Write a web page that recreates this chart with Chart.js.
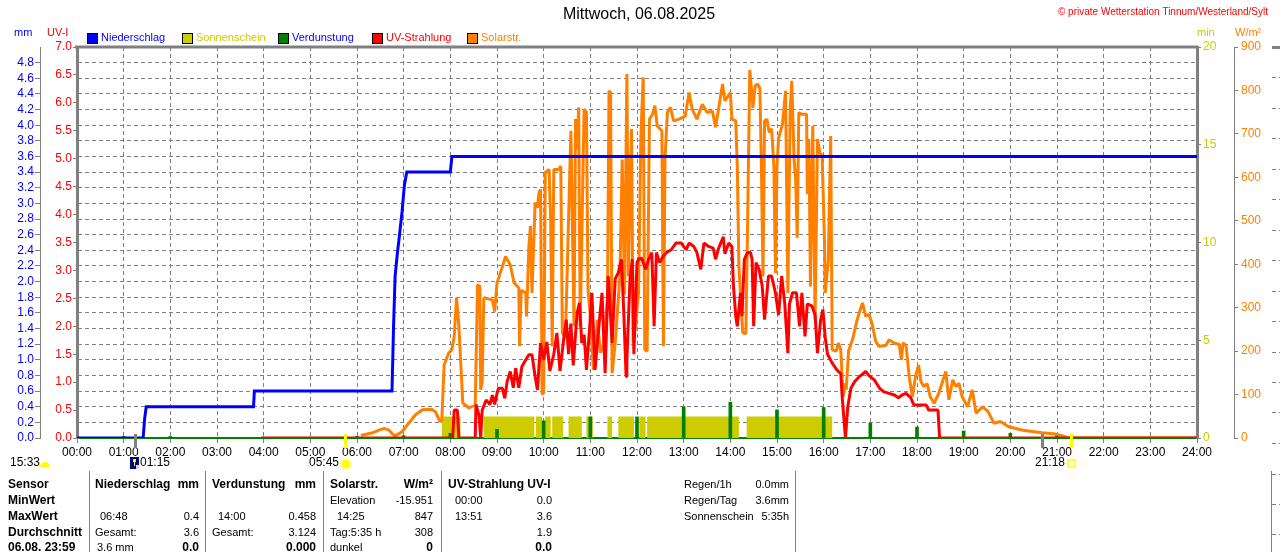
<!DOCTYPE html>
<html>
<head>
<meta charset="utf-8">
<title>Wetterstation Tinnum 06.08.2025</title>
<script src="https://cdn.jsdelivr.net/npm/chart.js@4.4.1/dist/chart.umd.min.js"></script>
<style>
  html, body { margin: 0; padding: 0; background: #fff; }
  canvas { display: block; }
</style>
</head>
<body>
<canvas id="chart" width="1280" height="552"></canvas>
<script>
// times are minutes after 00:00
var hourLabels = ['00:00','01:00','02:00','03:00','04:00','05:00','06:00','07:00','08:00','09:00','10:00','11:00','12:00',
                  '13:00','14:00','15:00','16:00','17:00','18:00','19:00','20:00','21:00','22:00','23:00','24:00'];
var mmLabels = ['0.0','0.2','0.4','0.6','0.8','1.0','1.2','1.4','1.6','1.8','2.0','2.2','2.4','2.6','2.8','3.0',
                '3.2','3.4','3.6','3.8','4.0','4.2','4.4','4.6','4.8'];
var uvLabels = ['0.0','0.5','1.0','1.5','2.0','2.5','3.0','3.5','4.0','4.5','5.0','5.5','6.0','6.5','7.0'];
var minLabels = ['0','5','10','15','20'];
var wLabels = ['0','100','200','300','400','500','600','700','800','900'];

// Niederschlag (mm, Tagessumme)
var rainTime = [0, 85, 87, 89, 227, 228, 405, 407, 409, 412, 414, 418, 421, 424, 480, 482, 1440];
var rainMm   = [0, 0, 0.25, 0.4, 0.4, 0.6, 0.6, 1.43, 2.07, 2.37, 2.54, 2.9, 3.24, 3.4, 3.4, 3.6, 3.6];

// Verdunstung (mm)
var evapTime = [60, 120, 180, 240, 300, 360, 420, 480, 540, 600, 660, 720, 780, 840, 900, 960, 1020, 1080, 1140, 1200, 1260];
var evapMm   = [0.02, 0.02, 0.01, 0.01, 0.01, 0.02, 0.03, 0.06, 0.11, 0.22, 0.27, 0.27, 0.40, 0.458, 0.36, 0.39, 0.19, 0.14, 0.09, 0.06, 0.04];

// Sonnenschein (min)
var sunStart = [469, 523, 590, 602, 611, 632, 655, 682, 696, 723, 733, 861];
var sunEnd   = [493, 588, 598, 609, 625, 649, 663, 688, 716, 731, 851, 971];
var sunLevel = 1.1;

// Solarstrahlung (W/m2)
var solarTime = [365, 380, 388, 395, 401, 408, 414, 418, 427, 435, 444, 456, 461, 466, 469, 472, 478, 482, 485, 488, 491, 496,
  504, 512, 515, 518, 519, 521, 523, 534, 537, 540, 547, 551, 557, 562, 568, 569, 571, 577, 578, 581, 583, 585, 589, 592, 594,
  596, 598, 600, 602, 607, 609, 611, 613, 619, 622, 624, 628, 635, 639, 641, 643, 645, 647, 652, 655, 657, 660, 664, 669, 673,
  677, 682, 684, 686, 688, 692, 698, 701, 704, 707, 709, 711, 713, 715, 718, 722, 725, 728, 730, 733, 736, 740, 743, 746, 752,
  754, 756, 759, 763, 767, 774, 782, 787, 791, 797, 804, 810, 817, 821, 826, 830, 833, 840, 842, 847, 849, 851, 856, 860, 862,
  865, 868, 869, 872, 875, 878, 880, 882, 884, 887, 890, 893, 896, 898, 900, 902, 907, 911, 914, 917, 919, 922, 924, 926, 928,
  932, 938, 939, 941, 943, 946, 949, 952, 955, 958, 961, 962, 966, 969, 971, 976, 979, 982, 985, 988, 989, 992, 997, 1003,
  1007, 1010, 1014, 1018, 1022, 1027, 1031, 1040, 1044, 1051, 1057, 1060, 1062, 1066, 1070, 1074, 1078, 1082, 1085, 1089,
  1093, 1097, 1102, 1108, 1117, 1121, 1126, 1130, 1134, 1138, 1145, 1151, 1156, 1164, 1171, 1179, 1187, 1198, 1216, 1241,
  1258, 1267, 1275, 1440];
var solarWm2 = [6, 12, 18, 22, 18, 5, 10, 15, 35, 53, 65, 66, 60, 40, 38, 168, 196, 203, 234, 323, 257, 81,
  69, 76, 353, 349, 111, 130, 323, 318, 291, 357, 395, 418, 399, 357, 346, 211, 340, 334, 280, 441, 488, 334, 542, 530, 565,
  572, 100, 104, 611, 618, 500, 211, 618, 618, 626, 242, 230, 707, 257, 734, 665, 761, 257, 757, 750, 342, 280, 157, 272, 196,
  215, 318, 799, 795, 149, 219, 372, 641, 330, 838, 372, 580, 711, 219, 257, 334, 695, 830, 203, 200, 734, 745, 765, 718, 707,
  211, 641, 749, 761, 730, 734, 741, 795, 757, 734, 768, 750, 752, 715, 770, 815, 776, 795, 734, 730, 622, 395, 242, 240, 472,
  847, 788, 760, 811, 815, 805, 618, 372, 730, 734, 703, 712, 626, 380, 626, 690, 722, 799, 334, 760, 822, 640, 595, 461, 749,
  745, 745, 561, 688, 349, 718, 272, 688, 657, 650, 457, 334, 410, 695, 203, 200, 219, 203, 95, 126, 111, 200, 226, 272,
  295, 311, 280, 285, 265, 222, 211, 213, 226, 218, 216, 180, 219, 212, 141, 95, 141, 168, 130, 118,
  125, 95, 80, 103, 153, 88, 134, 118, 126, 95, 72, 111, 57, 72, 62, 34, 38, 26, 18, 12,
  9, 5, 0, 0];

// UV-Strahlung (UV-Index)
var uvTime = [237, 483, 485, 489, 491, 512, 513, 515, 517, 519, 521, 526, 531, 534, 537, 540, 542, 547, 550, 553, 557, 561,
  564, 568, 572, 577, 581, 585, 589, 592, 596, 600, 604, 608, 613, 617, 621, 626, 629, 632, 635, 638, 643, 646, 649, 652, 655,
  659, 662, 666, 671, 675, 679, 683, 688, 692, 696, 700, 703, 706, 707, 711, 714, 716, 720, 722, 726, 731, 735, 739, 742, 745,
  749, 754, 758, 764, 770, 777, 783, 787, 793, 797, 802, 806, 812, 818, 821, 825, 831, 833, 838, 842, 844, 847, 849, 853, 855,
  858, 862, 866, 868, 870, 873, 877, 881, 884, 889, 893, 898, 902, 906, 910, 914, 916, 920, 925, 929, 932, 936, 939, 945, 949,
  952, 956, 959, 962, 965, 971, 977, 982, 984, 988, 991, 995, 1000, 1006, 1014, 1018, 1025, 1032, 1037, 1044, 1051, 1056,
  1061, 1066, 1072, 1076, 1086, 1092, 1095, 1107, 1109, 1440];
var uvIndex = [0, 0, 0.5, 0.5, 0, 0, 0.6, 0.5, 0.4, 0, 0.5, 0.68, 0.6, 0.77, 0.6, 0.8, 0.89, 0.89, 0.71, 1.01, 1.19, 0.9,
  1.25, 0.9, 1.28, 1.4, 1.49, 1.49, 1.1, 0.86, 1.7, 1.4, 1.72, 1.2, 1.5, 1.88, 1.2, 1.8, 2.12, 1.5, 2.05, 1.3, 2.24, 2.42, 1.7, 1.85, 1.22,
  1.95, 2.6, 1.22, 2.0, 2.6, 1.16, 2.9, 1.7, 2.85, 2.96, 3.2, 2.25, 1.1, 1.4, 2.85, 3.2, 1.5, 3.14, 3.2, 3.22, 3.02, 3.2, 3.32, 2.0, 3.32,
  3.14, 3.26, 3.32, 3.37, 3.49, 3.49, 3.37, 3.49, 3.43, 3.32, 3.02, 3.49, 3.43, 3.4, 3.2, 3.4, 3.6, 3.3, 3.49, 3.43, 2.72, 2.18, 2.0, 2.6, 2.18,
  3.2, 3.32, 3.32, 3.2, 2.0, 3.14, 3.02, 2.72, 2.12, 2.9, 2.9, 2.6, 2.2, 2.9, 2.4, 1.52, 2.4, 2.6, 2.6, 2.0, 2.6, 1.82, 2.4, 2.36, 2.2,
  1.52, 2.1, 2.3, 1.8, 1.5, 1.34, 1.22, 1.15, 0.7, 0, 0.56, 0.89, 1.01, 1.1, 1.19, 1.12, 1.04, 0.89, 0.83, 0.8, 0.77, 0.72,
  0.77, 0.8, 0.72, 0.59, 0.59, 0.59, 0.5, 0.5, 0, 0];

// Sonnen-/Mondzeiten unter der Zeitachse
var markTimes  = ['01:15', '05:45', '20:41', '21:18'];
var markColors = ['#808080', '#ffff00', '#808080', '#ffff00'];

var GRAY = '#808080';
var FONT = "'Liberation Sans', Arial, sans-serif";

function toMin(hhmm) {
    var p = hhmm.split(':');
    return Number(p[0]) * 60 + Number(p[1]);
}
function pairs(xs, ys) {
    return xs.map(function (x, i) { return { x: x, y: ys[i] }; });
}

var sunData = [{ x: 0, y: 0 }];
sunStart.forEach(function (s, i) {
    sunData.push({ x: s, y: sunLevel });
    sunData.push({ x: sunEnd[i], y: 0 });
});
sunData.push({ x: 1440, y: 0 });

function fixWidth(w) { return function (scale) { scale.width = w; }; }

var decoPlugin = {
    id: 'deco',
    beforeDatasetsDraw: function (chart) {
        var ctx = chart.ctx, a = chart.chartArea;
        ctx.save();
        ctx.strokeStyle = GRAY;
        ctx.lineWidth = 3;
        ctx.beginPath();
        ctx.moveTo(a.left - 2, a.top);
        ctx.lineTo(a.right + 1, a.top);
        ctx.stroke();
        ctx.restore();
    },
    afterDraw: function (chart) {
        var ctx = chart.ctx, a = chart.chartArea, xs = chart.scales.x;
        ctx.save();
        ctx.textBaseline = 'middle';

        ctx.font = '16px ' + FONT;
        ctx.fillStyle = '#000';
        ctx.textAlign = 'center';
        ctx.fillText('Mittwoch, 06.08.2025', 639, 15);

        ctx.font = '10px ' + FONT;
        ctx.fillStyle = '#ff0000';
        ctx.textAlign = 'right';
        ctx.fillText('\u00a9 private Wetterstation Tinnum/Westerland/Sylt', 1268, 12);

        // axis titles
        ctx.font = '11px ' + FONT;
        ctx.textAlign = 'left';
        ctx.fillStyle = '#0000ff'; ctx.fillText('mm', 14, 33);
        ctx.fillStyle = '#ff0000'; ctx.fillText('UV-I', 47, 33);
        ctx.fillStyle = '#cccc00'; ctx.fillText('min', 1197, 33);
        ctx.fillStyle = '#ff8000'; ctx.fillText('W/m\u00b2', 1235, 33);

        // legend
        var legendX = [87, 182, 278, 372, 467];
        var legendSet = [0, 4, 3, 1, 2];
        var legendText = ['#0000ff', '#cccc00', '#0000ff', '#ff0000', '#ff8000'];
        legendSet.forEach(function (di, i) {
            var ds = chart.data.datasets[di];
            ctx.fillStyle = ds.legendColor;
            ctx.fillRect(legendX[i], 33, 10, 10);
            ctx.strokeStyle = '#000';
            ctx.lineWidth = 1;
            ctx.strokeRect(legendX[i] + 0.5, 33.5, 10, 10);
            ctx.fillStyle = legendText[i];
            ctx.fillText(ds.label, legendX[i] + 14, 38);
        });

        // sun / moon markers
        markTimes.forEach(function (t, i) {
            var px = Math.round(xs.getPixelForValue(toMin(t)));
            ctx.fillStyle = markColors[i];
            ctx.fillRect(px - 1, a.bottom - 4, 3, 14);
        });
        ctx.font = '12px ' + FONT;
        ctx.fillStyle = '#000';
        ctx.textAlign = 'left';
        ctx.fillText('15:33', 10, 463);
        ctx.fillStyle = '#ffff00';
        ctx.beginPath();
        ctx.ellipse(45, 467, 5, 5, 0, Math.PI, 0);
        ctx.fill();

        var pMoon = Math.round(xs.getPixelForValue(toMin('01:15')));
        ctx.fillStyle = '#000080';
        ctx.fillRect(pMoon - 5, 457, 9, 12);
        ctx.fillStyle = '#ffff00';
        ctx.fillRect(pMoon - 2, 459, 3, 3);
        ctx.fillRect(pMoon - 1, 461, 1, 5);
        ctx.fillStyle = '#d0d0ff';
        ctx.fillRect(pMoon + 1, 465, 3, 4);
        ctx.fillStyle = '#000';
        ctx.fillText('01:15', pMoon + 5, 463);

        var pRise = Math.round(xs.getPixelForValue(toMin('05:45')));
        ctx.fillStyle = '#ffffa0';
        ctx.beginPath(); ctx.arc(pRise + 1, 464, 6, 0, Math.PI * 2); ctx.fill();
        ctx.fillStyle = '#ffff00';
        ctx.beginPath(); ctx.arc(pRise + 1, 464, 4, 0, Math.PI * 2); ctx.fill();
        ctx.fillStyle = '#000';
        ctx.textAlign = 'right';
        ctx.fillText('05:45', pRise - 6, 463);

        var pSet = Math.round(xs.getPixelForValue(toMin('21:18')));
        ctx.strokeStyle = '#ffff00';
        ctx.lineWidth = 1.5;
        ctx.strokeRect(pSet - 3, 460, 7, 7);
        ctx.fillText('21:18', pSet - 6, 463);

        // statistics table
        var rows = [485, 501, 517, 533, 548];
        var bold = 'bold 12px ' + FONT, norm = '11px ' + FONT;
        function txt(s, x, y, align, b) {
            ctx.font = b ? bold : norm;
            ctx.textAlign = align;
            ctx.fillText(s, x, y);
        }
        ctx.fillStyle = '#000';
        ['Sensor', 'MinWert', 'MaxWert', 'Durchschnitt', '06.08. 23:59'].forEach(function (s, i) {
            txt(s, 8, rows[i], 'left', true);
        });
        txt('Niederschlag', 95, rows[0], 'left', true);   txt('mm', 199, rows[0], 'right', true);
        txt('Verdunstung', 212, rows[0], 'left', true);   txt('mm', 316, rows[0], 'right', true);
        txt('Solarstr.', 330, rows[0], 'left', true);     txt('W/m\u00b2', 433, rows[0], 'right', true);
        txt('UV-Strahlung UV-I', 448, rows[0], 'left', true);

        txt('Elevation', 330, rows[1], 'left');  txt('-15.951', 433, rows[1], 'right');
        txt('00:00', 455, rows[1], 'left');      txt('0.0', 552, rows[1], 'right');

        txt('06:48', 100, rows[2], 'left');      txt('0.4', 199, rows[2], 'right');
        txt('14:00', 218, rows[2], 'left');      txt('0.458', 316, rows[2], 'right');
        txt('14:25', 337, rows[2], 'left');      txt('847', 433, rows[2], 'right');
        txt('13:51', 455, rows[2], 'left');      txt('3.6', 552, rows[2], 'right');

        txt('Gesamt:', 95, rows[3], 'left');     txt('3.6', 199, rows[3], 'right');
        txt('Gesamt:', 212, rows[3], 'left');    txt('3.124', 316, rows[3], 'right');
        txt('Tag:5:35 h', 330, rows[3], 'left'); txt('308', 433, rows[3], 'right');
        txt('1.9', 552, rows[3], 'right');

        txt('3.6 mm', 97, rows[4], 'left');      txt('0.0', 199, rows[4], 'right', true);
        txt('0.000', 316, rows[4], 'right', true);
        txt('dunkel', 330, rows[4], 'left');     txt('0', 433, rows[4], 'right', true);
        txt('0.0', 552, rows[4], 'right', true);

        txt('Regen/1h', 684, rows[0], 'left');     txt('0.0mm', 789, rows[0], 'right');
        txt('Regen/Tag', 684, rows[1], 'left');    txt('3.6mm', 789, rows[1], 'right');
        txt('Sonnenschein', 684, rows[2], 'left'); txt('5:35h', 789, rows[2], 'right');

        ctx.strokeStyle = GRAY;
        ctx.lineWidth = 1;
        [89, 205, 323, 441, 795, 1271].forEach(function (x) {
            ctx.beginPath();
            ctx.moveTo(x + 0.5, 471);
            ctx.lineTo(x + 0.5, 552);
            ctx.stroke();
        });

        // edge of the neighbouring panel
        ctx.fillStyle = GRAY;
        ctx.fillRect(1272, a.top - 1, 8, 3);
        ctx.setLineDash([4, 3]);
        ctx.beginPath();
        for (var k = 1; k <= 13; k++) {
            var y = Math.round(a.top + k * 30.45) + 0.5;
            ctx.moveTo(1272, y); ctx.lineTo(1280, y);
        }
        [474, 504, 534].forEach(function (y) {
            ctx.moveTo(1272, y + 0.5); ctx.lineTo(1280, y + 0.5);
        });
        ctx.stroke();
        ctx.restore();
    }
};

Chart.defaults.font.family = FONT;
Chart.defaults.font.size = 12;
Chart.defaults.color = '#000';

var ctx = document.getElementById('chart').getContext('2d');
var chart = new Chart(ctx, {
    type: 'line',
    data: {
        datasets: [
            {
                label: 'Niederschlag', legendColor: '#0000ff',
                data: pairs(rainTime, rainMm), yAxisID: 'mm',
                borderColor: '#0000ff', borderWidth: 3, pointRadius: 0, tension: 0, order: 0
            },
            {
                label: 'UV-Strahlung', legendColor: '#ff0000',
                data: pairs(uvTime, uvIndex), yAxisID: 'uv',
                borderColor: '#ff0000', borderWidth: 3, pointRadius: 0, tension: 0,
                borderJoinStyle: 'bevel', order: 1
            },
            {
                label: 'Solarstr.', legendColor: '#ff8000',
                data: pairs(solarTime, solarWm2), yAxisID: 'wm2',
                borderColor: '#ff8000', borderWidth: 3, pointRadius: 0, tension: 0,
                borderJoinStyle: 'bevel', order: 2
            },
            {
                type: 'bar', label: 'Verdunstung', legendColor: '#008000',
                data: pairs(evapTime, evapMm), yAxisID: 'mm',
                backgroundColor: '#008000', barThickness: 3, order: 3
            },
            {
                label: 'Sonnenschein', legendColor: '#cccc00',
                data: sunData, yAxisID: 'min', stepped: true, fill: 'origin',
                backgroundColor: '#cccc00', borderWidth: 0, borderColor: 'rgba(0,0,0,0)',
                pointRadius: 0, order: 4
            }
        ]
    },
    options: {
        responsive: false,
        animation: false,
        devicePixelRatio: 1,
        events: [],
        layout: { padding: { top: 47, left: 0, right: 0, bottom: 0 } },
        plugins: { legend: { display: false }, tooltip: { enabled: false } },
        scales: {
            x: {
                type: 'linear', min: 0, max: 1440, offset: false,
                afterFit: function (scale) { scale.height = 114; },
                ticks: {
                    stepSize: 60, maxTicksLimit: 100, autoSkip: false, maxRotation: 0, padding: 2,
                    callback: function (v) { return hourLabels[Math.round(v / 60)]; }
                },
                grid: { color: GRAY, offset: false, tickLength: 5, tickColor: GRAY },
                border: { display: true, color: '#008000', width: 2, dash: [4, 3] }
            },
            mm: {
                type: 'linear', position: 'left', weight: 1, min: 0, max: 5,
                afterFit: fixWidth(40),
                ticks: {
                    stepSize: 0.2, maxTicksLimit: 100, autoSkip: false, padding: 1, color: '#0000ff',
                    callback: function (v) { return mmLabels[Math.round(v / 0.2)]; }
                },
                grid: { color: GRAY, tickLength: 5, tickColor: GRAY },
                border: { display: true, color: GRAY, width: 1, dash: [4, 3] }
            },
            uv: {
                type: 'linear', position: 'left', weight: 0, min: 0, max: 7,
                afterFit: fixWidth(37),
                ticks: {
                    stepSize: 0.5, maxTicksLimit: 100, autoSkip: false, padding: 1, color: '#ff0000',
                    callback: function (v) { return uvLabels[Math.round(v / 0.5)]; }
                },
                grid: { drawOnChartArea: false, tickLength: 4, color: GRAY },
                border: { display: true, color: GRAY, width: 3 }
            },
            min: {
                type: 'linear', position: 'right', weight: 0, min: 0, max: 20,
                afterFit: fixWidth(37),
                ticks: {
                    stepSize: 5, autoSkip: false, padding: 2, color: '#cccc00',
                    callback: function (v) { return minLabels[Math.round(v / 5)]; }
                },
                grid: { drawOnChartArea: false, tickLength: 4, color: GRAY },
                border: { display: true, color: GRAY, width: 3 }
            },
            wm2: {
                type: 'linear', position: 'right', weight: 1, min: 0, max: 900,
                afterFit: fixWidth(46),
                ticks: {
                    stepSize: 100, autoSkip: false, padding: 3, color: '#ff8000',
                    callback: function (v) { return wLabels[Math.round(v / 100)]; }
                },
                grid: { drawOnChartArea: false, tickLength: 4, color: GRAY },
                border: { display: true, color: GRAY, width: 1 }
            }
        }
    },
    plugins: [decoPlugin]
});
</script>
</body>
</html>
